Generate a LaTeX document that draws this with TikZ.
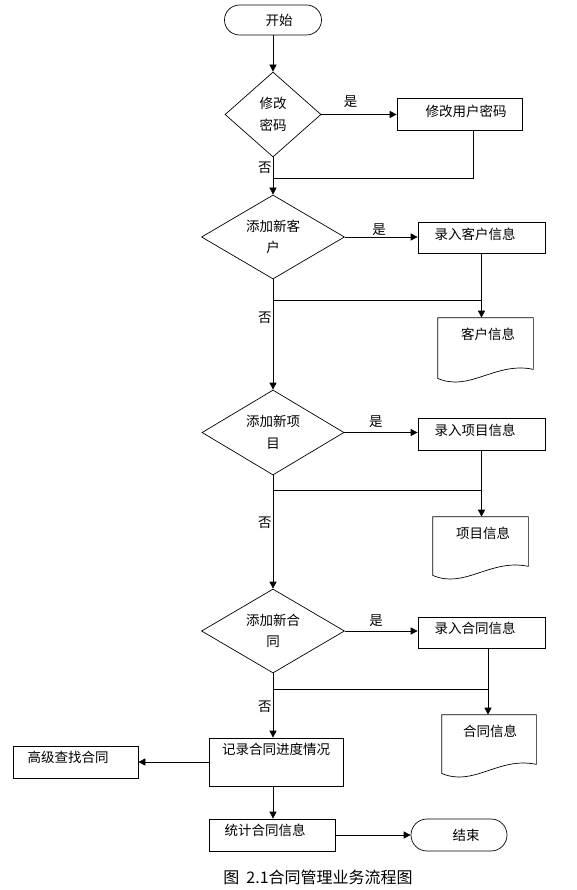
\documentclass[tikz,border=0pt]{standalone}
\usepackage{fontspec}
\setmainfont{Noto Sans CJK SC}
\usetikzlibrary{arrows.meta,shapes.geometric}
\newcommand\cnfont{\fontsize{13.5}{21.5}\selectfont}
\newcommand\capfont{\fontsize{16}{18}\selectfont}
\newcommand\docshape[1]{\draw (#1.north west) -- (#1.north east) -- ([yshift=9pt]#1.south east) .. controls ([xshift=-38pt,yshift=17pt]#1.south east) and ([xshift=32pt,yshift=-14pt]#1.south west) .. (#1.south west) -- cycle;}
\begin{document}
\begin{tikzpicture}[x=1pt,y=-1pt, line width=0.7pt,
  every node/.style={font=\cnfont},
  arr/.style={-{Triangle[length=7pt,width=7pt]}},
  term/.style={draw, rectangle, inner sep=0pt},
  proc/.style={draw, rectangle, inner sep=0pt},
  dec/.style={draw, diamond, aspect=1.7, inner sep=0pt, align=center},
  docn/.style={rectangle, inner sep=0pt, minimum width=95pt},
  txt/.style={inner sep=0pt},
  lbl/.style={inner sep=0pt},
  nolbl/.style={inner sep=0pt, anchor=east, xshift=-1pt}
]
\useasboundingbox (0,0) rectangle (577,890);

% terminals
\node[term, rounded corners=15pt, minimum width=97pt, minimum height=30pt] (start) at (273,20) {};
\node[txt] (tstart) at (279,20) {开始};
\node[term, rounded corners=16pt, minimum width=96pt, minimum height=32pt] (end) at (459,835) {};
\node[txt] (tend) at (466,835) {结束};

% decisions
\node[dec, minimum width=96pt, minimum height=85pt] (d1) at (273,114.5) {修改\\密码};
\node[dec, minimum width=143pt, minimum height=84pt] (d2) at (273,237) {添加新客\\户};
\node[dec, minimum width=142pt, minimum height=85pt] (d3) at (273,432.5) {添加新项\\目};
\node[dec, minimum width=143pt, minimum height=84pt] (d4) at (273,631) {添加新合\\同};

% processes
\node[proc, minimum width=125pt, minimum height=32pt] (b1) at (459.5,114) {};
\node[txt] (tb1) at (466,111) {修改用户密码};
\node[proc, minimum width=127pt, minimum height=31pt] (b2) at (481.5,237.5) {};
\node[txt] (tb2) at (475,234) {录入客户信息};
\node[proc, minimum width=127pt, minimum height=32pt] (b3) at (481.5,434) {};
\node[txt] (tb3) at (475,430) {录入项目信息};
\node[proc, minimum width=127pt, minimum height=31pt] (b4) at (481.5,632.5) {};
\node[txt] (tb4) at (475,628) {录入合同信息};
\node[proc, minimum width=134pt, minimum height=48pt] (b5) at (276,762) {};
\node[txt] (tb5) at (276,749) {记录合同进度情况};
\node[proc, minimum width=125pt, minimum height=32pt] (b6) at (75.5,762) {};
\node[txt] (tb6) at (68,757) {高级查找合同};
\node[proc, minimum width=126pt, minimum height=32pt] (b7) at (272,835) {};
\node[txt] (tb7) at (265,830) {统计合同信息};

% documents
\node[docn, minimum height=60pt] (dc2) at (485.5,348) {};
\docshape{dc2}
\node[txt] (tdc2) at (488,334) {客户信息};
\node[docn, minimum height=58pt] (dc3) at (480.5,546) {};
\docshape{dc3}
\node[txt] (tdc3) at (483,533) {项目信息};
\node[docn, minimum height=58pt, minimum width=94pt] (dc4) at (489,744) {};
\docshape{dc4}
\node[txt] (tdc4) at (490,731) {合同信息};

% junction points
\coordinate (j1) at (273,178);
\coordinate (j2) at (273,300);
\coordinate (j3) at (273,490);
\coordinate (j4) at (273,689);
\coordinate (k1) at ([xshift=13.5pt]b1.south);
\coordinate (k4) at ([xshift=6.5pt]b4.south);

% main column
\draw[arr] (start.south) -- (d1.north);
\draw[arr] (d1.south) -- node[nolbl, pos=0.29] (n1) {否} (d2.north);
\draw[arr] (d2.south) -- node[nolbl, pos=0.35] (n2) {否} (d3.north);
\draw[arr] (d3.south) -- node[nolbl, pos=0.42] (n3) {否} (d4.north);
\draw[arr] (d4.south) -- node[nolbl, pos=0.52] (n4) {否} (d4.south |- b5.north);
\draw[arr] (d4.south |- b5.south) -- (d4.south |- b7.north);
\draw[arr] (b5.west) -- (b5.west -| b6.east);
\draw[arr] (b7.east) -- (end.west);

% yes branches
\draw[arr] (d1.east) -- node[lbl, pos=0.39, yshift=13pt] (y1) {是} (d1.east -| b1.west);
\draw[arr] (d2.east) -- node[lbl, pos=0.47, yshift=7.5pt] (y2) {是} (d2.east -| b2.west);
\draw[arr] (d3.east) -- node[lbl, pos=0.43, yshift=11pt] (y3) {是} (d3.east -| b3.west);
\draw[arr] (d4.east) -- node[lbl, pos=0.43, yshift=10pt] (y4) {是} (d4.east -| b4.west);

% returns and documents
\draw (k1) |- (j1);
\draw[arr] (b2.south) -- (b2.south |- dc2.north);
\draw (j2) -- (j2 -| b2.south);
\draw[arr] (b3.south) -- (b3.south |- dc3.north);
\draw (j3) -- (j3 -| b3.south);
\draw[arr] (k4) -- (k4 |- dc4.north);
\draw (j4) -- (j4 -| k4);

% caption
\node[txt, font=\capfont] (cap) at (318,877.5) {图\hspace{0.45em}2.1合同管理业务流程图};
\end{tikzpicture}
\end{document}
